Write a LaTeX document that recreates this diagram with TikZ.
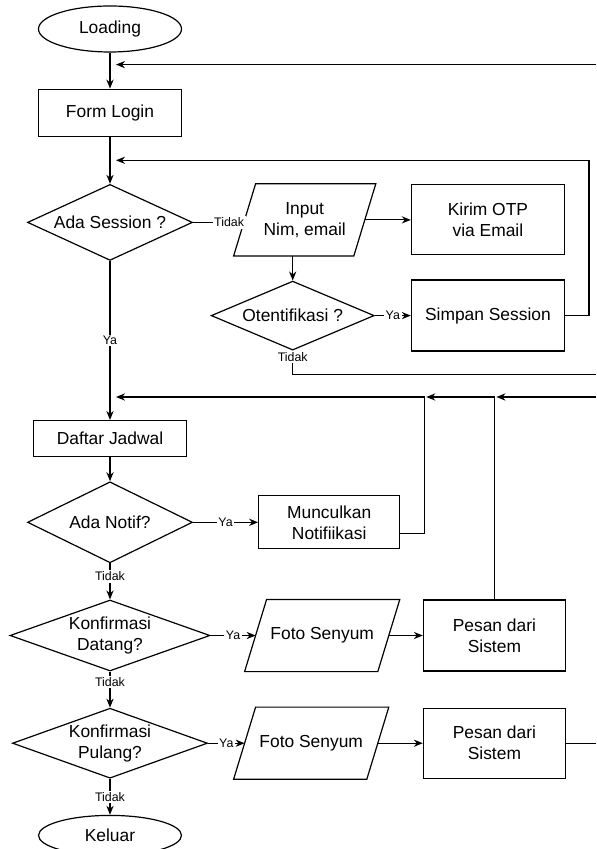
\documentclass[tikz,border=0pt]{standalone}
\usepackage{fontspec}
\setmainfont{Liberation Sans}
\usetikzlibrary{positioning}
\usetikzlibrary{shapes.geometric}
\usetikzlibrary{arrows.meta}
\usetikzlibrary{calc}

% outline of an input/output node (parallelogram)
\newcommand{\slantbox}[1]{%
  \draw ([xshift=5.5pt]#1.north west) -- ([xshift=5.5pt]#1.north east)
    -- ([xshift=-5.5pt]#1.south east) -- ([xshift=-5.5pt]#1.south west) -- cycle;}

\begin{document}
\begin{tikzpicture}[
font=\fontsize{8.7}{10.5}\selectfont,
line width=0.6pt,
>={Stealth[length=4.5pt, width=3.6pt]},
terminal/.style={ellipse, draw, minimum width=71.5pt, inner sep=0pt},
process/.style={rectangle, draw, align=center, inner sep=0pt},
decision/.style={diamond, draw, aspect=2.6, align=center, inner sep=0pt},
inout/.style={rectangle, align=center, inner sep=0pt, minimum height=35.5pt},
lbl/.style={fill=white, inner sep=0.8pt, font=\fontsize{6.2}{7}\selectfont},
]
\useasboundingbox (-55pt,14.5pt) rectangle (243pt,-410pt);
\coordinate (border) at (243pt,0);

%Nodes
\node[terminal, minimum height=23pt] (loading) {Loading};
\node[process, minimum width=71.5pt, minimum height=23.5pt] (formlogin) [below=18pt of loading] {Form Login};
\node[decision, minimum width=82.5pt, minimum height=38pt] (adasession) [below=23.5pt of formlogin] {Ada Session ?};
\node[process, minimum width=76.5pt, minimum height=18pt] (daftar) [below=79.5pt of adasession] {Daftar Jadwal};
\node[decision, minimum width=82.5pt, minimum height=40.5pt] (adanotif) [below=12pt of daftar] {Ada Notif?};
\node[decision, minimum width=100pt, minimum height=35.5pt] (datang) [below=18pt of adanotif] {Konfirmasi\\Datang?};
\node[decision, minimum width=97.5pt, minimum height=35pt] (pulang) [below=18pt of datang] {Konfirmasi\\Pulang?};
\node[terminal, minimum height=20pt] (keluar) [below=18pt of pulang] {Keluar};

\node[inout, minimum width=59.5pt] (input) [right=25.75pt of adasession, yshift=1.25pt] {Input\\Nim, email};
\node[process, minimum width=76.5pt, minimum height=35pt] (kirim) [right=23pt of input] {Kirim OTP\\via Email};
\node[process, minimum width=76.5pt, minimum height=35.5pt] (simpan) [below=12pt of kirim] {Simpan Session};
\node[decision, minimum width=81.5pt, minimum height=34.5pt] (otentik) [left=18pt of simpan] {Otentifikasi ?};

\node[process, minimum width=70.5pt, minimum height=26.5pt] (munculkan) [right=32.5pt of adanotif] {Munculkan\\Notifiikasi};
\node[inout, minimum width=66pt] (foto1) [right=22.5pt of datang] {Foto Senyum};
\node[process, minimum width=71pt, minimum height=35.5pt] (pesan1) [right=17pt of foto1] {Pesan dari\\Sistem};
\node[inout, minimum width=66pt] (foto2) [right=18.25pt of pulang] {Foto Senyum};
\node[process, minimum width=71pt, minimum height=35pt] (pesan2) [below=18pt of pesan1] {Pesan dari\\Sistem};

\slantbox{input}
\slantbox{foto1}
\slantbox{foto2}

%Joints
\coordinate (j1) at ([xshift=3pt, yshift=-6pt]loading.south);
\coordinate (j2) at ($(formlogin.south)!.5!(adasession.north)+(3pt,0)$);
\coordinate (j3) at ([xshift=3pt, yshift=11.5pt]daftar.north);
\coordinate (t1) at ([yshift=-12pt]otentik.south);
\coordinate (m1) at ([yshift=-5.75pt]munculkan.east);
\coordinate (m2) at ([xshift=12pt]m1);
\path (m2 |- j3) ++(1pt,0) coordinate (p1);
\path (pesan1.north |- j3) ++(1pt,0) coordinate (p2);

%Lines
\draw[->] (loading) -- (formlogin);
\draw[->] (border |- j1) -- (j1);
\draw[->] (formlogin) -- (adasession);
\draw[->] (adasession.east) -- node[lbl, pos=.7]{Tidak} (adasession.east -| input.west);
\draw[->] (input.east) -- (kirim.west);
\draw[->] (otentik.north |- input.south) -- (otentik.north);
\draw[->] (otentik) -- node[lbl]{Ya} (simpan);
\draw[->] (simpan.east) -- ++(12pt,0) |- (j2);
\draw (otentik.south) -- node[lbl, pos=.25]{Tidak} (t1) -- (t1 -| border);

\draw[->] (adasession) -- node[lbl]{Ya} (daftar);
\draw[->] (border |- j3) -- (p2);
\draw[->] (pesan1.north) |- (p1);
\draw[->] (m1) -- (m2) |- (j3);
\draw[->] (daftar) -- (adanotif);
\draw[->] (adanotif) -- node[lbl]{Ya} (munculkan);
\draw[->] (adanotif) -- node[lbl, pos=.36]{Tidak} (datang);
\draw[->] (datang) -- node[lbl]{Ya} (foto1);
\draw[->] (foto1) -- (pesan1);
\draw[->] (datang) -- node[lbl, pos=.28]{Tidak} (pulang);
\draw[->] (pulang) -- node[lbl]{Ya} (foto2);
\draw[->] (foto2) -- (pesan2);
\draw (pesan2.east) -- (pesan2.east -| border);
\draw[->] (pulang) -- node[lbl]{Tidak} (keluar);
\end{tikzpicture}
\end{document}
